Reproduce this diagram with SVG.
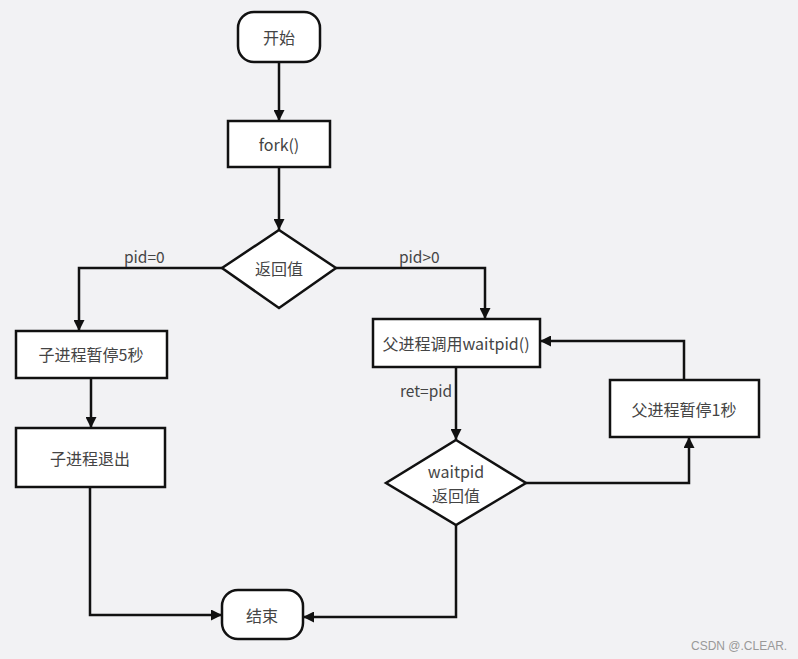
<svg xmlns="http://www.w3.org/2000/svg" width="798" height="659" viewBox="0 0 798 659">
<style>
.n{fill:#fff;stroke:#111;stroke-width:2.5}
.t{font-family:"Noto Sans CJK SC","Noto Sans",sans-serif;font-size:16px;fill:#444;text-anchor:middle;dominant-baseline:central}
.l{font-family:"Noto Sans CJK SC","Noto Sans",sans-serif;font-size:15.5px;fill:#444}
.c{fill:none;stroke:#111;stroke-width:2.5;marker-end:url(#a)}
</style>
<defs>
<marker id="a" viewBox="0 0 10 10" refX="10" refY="5" markerWidth="4.4" markerHeight="4.4" orient="auto" markerUnits="strokeWidth">
<path d="M0,0L10,5L0,10z" fill="#111"/>
</marker>
</defs>
<rect width="798" height="659" fill="#f2f2f4"/>
<g id="connectors">
<path class="c" d="M279,62V121"/>
<path class="c" d="M279,167V230"/>
<path class="c" d="M222,268H79V331"/>
<path class="c" d="M91,378V428"/>
<path class="c" d="M90,487V615H222"/>
<path class="c" d="M336,268H485V319"/>
<path class="c" d="M456,367V440"/>
<path class="c" d="M526,483H689V437"/>
<path class="c" d="M684,380V341H540"/>
<path class="c" d="M456,525V617H303"/>
</g>
<g id="labels">
<text class="l" x="124" y="263">pid=0</text>
<text class="l" x="399" y="263">pid&gt;0</text>
<text class="l" x="400" y="397">ret=pid</text>
</g>
<g id="start"><rect class="n" x="238" y="12" width="82" height="50" rx="16"/><text class="t" x="279" y="37">开始</text></g>
<g id="fork"><rect class="n" x="228" y="121" width="102" height="46"/><text class="t" x="279" y="144">fork()</text></g>
<g id="ret"><path class="n" d="M279,230L336,268L279,308L222,268z"/><text class="t" x="279" y="268">返回值</text></g>
<g id="child-sleep"><rect class="n" x="16" y="331" width="151" height="47"/><text class="t" x="91" y="354">子进程暂停5秒</text></g>
<g id="child-exit"><rect class="n" x="16" y="428" width="149" height="59"/><text class="t" x="90" y="458">子进程退出</text></g>
<g id="parent-wait"><rect class="n" x="373" y="319" width="167" height="48"/><text class="t" x="456" y="343">父进程调用waitpid()</text></g>
<g id="wait-ret"><path class="n" d="M456,440L526,483L456,525L386,483z"/><text class="t" x="456" y="471">waitpid</text><text class="t" x="456" y="495">返回值</text></g>
<g id="parent-sleep"><rect class="n" x="610" y="380" width="149" height="57"/><text class="t" x="684" y="409">父进程暂停1秒</text></g>
<g id="end"><rect class="n" x="222" y="590" width="81" height="49" rx="16"/><text class="t" x="262" y="615">结束</text></g>
<text x="691" y="650" font-family="Liberation Sans,sans-serif" font-size="12" fill="#999">CSDN @.CLEAR.</text>
</svg>
